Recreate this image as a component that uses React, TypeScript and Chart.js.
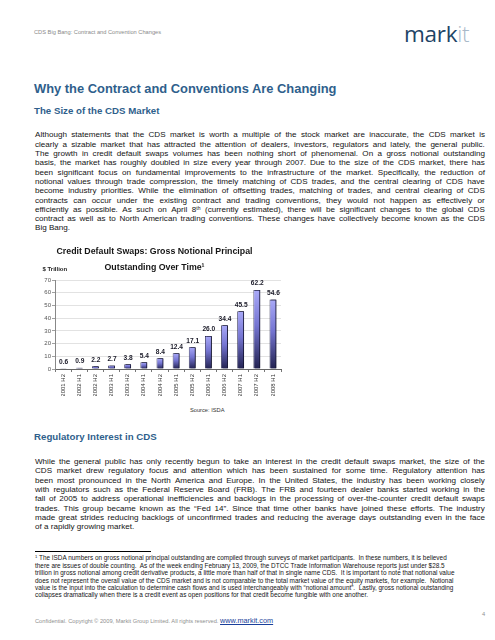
import React, { useEffect, useRef } from "react";
import { Chart, registerables } from "chart.js";

Chart.register(...registerables);

// ---------- chart data ----------
const categories = [
  "2001 H2", "2002 H1", "2002 H2", "2003 H1", "2003 H2", "2004 H1", "2004 H2",
  "2005 H1", "2005 H2", "2006 H1", "2006 H2", "2007 H1", "2007 H2", "2008 H1",
];
const notional = [0.6, 0.9, 2.2, 2.7, 3.8, 5.4, 8.4, 12.4, 17.1, 26.0, 34.4, 45.5, 62.2, 54.6];
const yMin = 0;
const yMax = 70;
const yStep = 10;
const chartTitle = ["Credit Default Swaps: Gross Notional Principal", "Outstanding Over Time\u00b9"];
const unitLabel = "$ Trillion";
const sourceLabel = "Source: ISDA";

// ---------- page text ----------
const headerText = "CDS Big Bang: Contract and Convention Changes";
const h1Text = "Why the Contract and Conventions Are Changing";
const h2Text = "The Size of the CDS Market";
const h3Text = "Regulatory Interest in CDS";
const para1 = [
  "Although statements that the CDS market is worth a multiple of the stock market are inaccurate, the CDS market is",
  "clearly a sizable market that has attracted the attention of dealers, investors, regulators and lately, the general public.",
  "The growth in credit default swaps volumes has been nothing short of phenomenal.  On a gross notional outstanding",
  "basis, the market has roughly doubled in size every year through 2007.  Due to the size of the CDS market, there has",
  "been significant focus on fundamental improvements to the infrastructure of the market.  Specifically, the reduction of",
  "notional values through trade compression, the timely matching of CDS trades, and the central clearing of CDS have",
  "become industry priorities.  While the elimination of offsetting trades, matching of trades, and central clearing of CDS",
  "contracts can occur under the existing contract and trading conventions, they would not happen as effectively or",
  "efficiently as possible.  As such on April 8^th (currently estimated), there will be significant changes to the global CDS",
  "contract as well as to North American trading conventions.  These changes have collectively become known as the CDS",
  "Big Bang.",
];
const para2 = [
  "While the general public has only recently begun to take an interest in the credit default swaps market, the size of the",
  "CDS market drew regulatory focus and attention which has been sustained for some time.  Regulatory attention has",
  "been most pronounced in the North America and Europe.  In the United States, the industry has been working closely",
  "with regulators such as the Federal Reserve Board (FRB).  The FRB and fourteen dealer banks started working in the",
  "fall of 2005 to address operational inefficiencies and backlogs in the processing of over-the-counter credit default swaps",
  "trades.  This group became known as the \u201cFed 14\u201d.  Since that time other banks have joined these efforts.  The industry",
  "made great strides reducing backlogs of unconfirmed trades and reducing the average days outstanding even in the face",
  "of a rapidly growing market.",
];
const footnote = [
  "^1 The ISDA numbers on gross notional principal outstanding are compiled through surveys of market participants.  In these numbers, it is believed",
  "there are issues of double counting.  As of the week ending February 13, 2009, the DTCC Trade Information Warehouse reports just under $28.5",
  "trillion in gross notional among credit derivative products, a little more than half of that in single name CDS.  It is important to note that notional value",
  "does not represent the overall value of the CDS market and is not comparable to the total market value of the equity markets, for example.  Notional",
  "value is the input into the calculation to determine cash flows and is used interchangeably with \u201cnotional amount\u201d.  Lastly, gross notional outstanding",
  "collapses dramatically when there is a credit event as open positions for that credit become fungible with one another.",
];
const footerText = "Confidential. Copyright \u00a9 2009, Markit Group Limited. All rights reserved.";
const footerLink = "www.markit.com";
const pageNumber = "4";

const FONT = "'Liberation Sans', Arial, sans-serif";
const BLUE = "#2f5f8c";

function renderToken(tok: string, key: number) {
  const i = tok.indexOf("^");
  if (i < 0) return <span key={key}>{tok}</span>;
  const base = tok.slice(0, i);
  const rest = tok.slice(i + 1);
  const m = rest.match(/^([a-z0-9]+)(.*)$/i);
  const sup = m ? m[1] : rest;
  const after = m ? m[2] : "";
  return (
    <span key={key}>
      {base}
      <span style={{ fontSize: "0.62em", verticalAlign: "0.5em", lineHeight: 0 }}>{sup}</span>
      {after}
    </span>
  );
}

function JustLine(props: { text: string; top: number; justify: boolean; size: number; lh: number }) {
  const { text, top, justify, size, lh } = props;
  const words = text.split(/\s+/);
  return (
    <div
      style={{
        position: "absolute",
        left: 35,
        top,
        width: 450,
        height: lh,
        lineHeight: lh + "px",
        fontSize: size,
        display: "flex",
        justifyContent: justify ? "space-between" : "flex-start",
        gap: justify ? 0 : size * 0.278,
        whiteSpace: "nowrap",
        color: "#141414",
      }}
    >
      {words.map((w, i) => renderToken(w, i))}
    </div>
  );
}

function PlainLine(props: { text: string; top: number; size: number; lh: number }) {
  const { text, top, size, lh } = props;
  const parts = text.split(/(\^\d+)/);
  return (
    <div
      style={{
        position: "absolute",
        left: 35,
        top,
        height: lh,
        lineHeight: lh + "px",
        fontSize: size,
        whiteSpace: "pre",
        color: "#141414",
      }}
    >
      {parts.map((p, i) =>
        p.startsWith("^") ? (
          <span key={i} style={{ fontSize: "0.65em", verticalAlign: "0.5em", lineHeight: 0 }}>
            {p.slice(1)}
          </span>
        ) : (
          <span key={i}>{p}</span>
        )
      )}
    </div>
  );
}

function BarChart() {
  const ref = useRef<HTMLCanvasElement | null>(null);
  useEffect(() => {
    if (!ref.current) return;
    const fallback = "#7474cc";
    const decor = {
      id: "decor",
      beforeDatasetsDraw(chart: any) {
        const ctx = chart.ctx;
        ctx.save();
        ctx.shadowColor = "rgba(12,12,40,0.95)";
        ctx.shadowOffsetX = 1.6;
        ctx.shadowOffsetY = 0;
        ctx.shadowBlur = 0;
      },
      afterDatasetsDraw(chart: any) {
        const ctx = chart.ctx;
        ctx.restore();
        ctx.save();
        const meta = chart.getDatasetMeta(0);
        ctx.fillStyle = "#1a1a28";
        ctx.font = "bold 6.6px 'Liberation Sans', Arial, sans-serif";
        ctx.textAlign = "center";
        ctx.textBaseline = "bottom";
        meta.data.forEach((bar: any, i: number) => {
          ctx.fillText(notional[i].toFixed(1), bar.x + 0.5, bar.y - 3);
        });
        ctx.font = "bold 6px 'Liberation Sans', Arial, sans-serif";
        ctx.textAlign = "left";
        ctx.textBaseline = "middle";
        ctx.fillStyle = "#222";
        ctx.fillText(unitLabel, chart.chartArea.left - 12.5, chart.chartArea.top - 11);
        ctx.restore();
      },
    };
    const chart = new Chart(ref.current, {
      type: "bar",
      data: {
        labels: categories,
        datasets: [
          {
            data: notional,
            barPercentage: 0.42,
            categoryPercentage: 1,
            borderWidth: 0.8,
            borderColor: "#1c1c44",
            borderSkipped: "bottom",
            backgroundColor: (c: any) => {
              const chart = c.chart;
              const ys = chart.scales && chart.scales.y;
              if (!ys || c.raw == null) return fallback;
              const top = ys.getPixelForValue(c.raw);
              const bottom = ys.getPixelForValue(0);
              if (!(bottom - top > 0.5) || !isFinite(top)) return fallback;
              const g = chart.ctx.createLinearGradient(0, top, 0, bottom);
              g.addColorStop(0, "#a9a9f8");
              g.addColorStop(0.45, "#7575d2");
              g.addColorStop(1, "#222250");
              return g;
            },
          },
        ],
      },
      options: {
        responsive: false,
        animation: false,
        devicePixelRatio: 1,
        layout: { padding: { left: 0, right: 2, top: 0, bottom: 0 } },
        plugins: {
          legend: { display: false },
          tooltip: { enabled: false },
          title: {
            display: true,
            text: chartTitle,
            color: "#151515",
            font: { family: FONT, size: 8.8, weight: "bold", lineHeight: 16 / 8.8 },
            padding: { top: 0, bottom: 4 },
          },
        },
        scales: {
          x: {
            offset: true,
            grid: { display: true, drawOnChartArea: false, offset: true, tickLength: 3, color: "#777" },
            border: { display: true, color: "#666", width: 1 },
            ticks: {
              autoSkip: false,
              maxRotation: 90,
              minRotation: 90,
              padding: 2,
              color: "#333",
              font: { family: FONT, size: 6 },
            },
            afterFit: (s: any) => {
              s.height = 27;
            },
          },
          y: {
            min: yMin,
            max: yMax,
            ticks: { stepSize: yStep, color: "#555", padding: 1, font: { family: FONT, size: 6 } },
            grid: { color: "#dadada", lineWidth: 0.8, tickLength: 3, tickColor: "#888" },
            border: { display: true, color: "#888", width: 1 },
            afterFit: (s: any) => {
              s.width = 27;
            },
          },
        },
      },
      plugins: [decor],
    });
    return () => chart.destroy();
  }, []);
  return (
    <canvas
      ref={ref}
      width={255}
      height={152}
      style={{ position: "absolute", left: 28, top: 244, width: 255, height: 152, display: "block" }}
    />
  );
}

export default function App() {
  const bodySize = 8.09;
  const bodyLh = 9.3;
  const p1Top = 130.4;
  const p2Top = 457;
  const fnSize = 6.42;
  const fnLh = 7.4;
  const fnTop = 554.3;
  return (
    <div
      style={{
        position: "absolute",
        left: 0,
        top: 0,
        width: 495,
        height: 640,
        overflow: "hidden",
        background: "#ffffff",
        fontFamily: FONT,
      }}
    >
      <div style={{ position: "absolute", left: 34, top: 28.7, fontSize: 5.7, lineHeight: "6.5px", color: "#8a8a8a", whiteSpace: "nowrap" }}>
        {headerText}
      </div>
      <div
        style={{
          position: "absolute",
          left: 404,
          top: 22,
          fontFamily: "'Open Sans', sans-serif",
          fontSize: 22.5,
          lineHeight: "24px",
          letterSpacing: "-0.3px",
          color: "#1d4466",
          whiteSpace: "nowrap",
        }}
      >
        mark<span style={{ color: "#a9b9c9", fontWeight: 300 }}>it</span>
      </div>
      <div style={{ position: "absolute", left: 34, top: 80.5, fontSize: 12.9, lineHeight: "15px", fontWeight: "bold", color: BLUE, whiteSpace: "nowrap" }}>
        {h1Text}
      </div>
      <div style={{ position: "absolute", left: 34, top: 104.5, fontSize: 9.7, lineHeight: "11px", fontWeight: "bold", color: BLUE, whiteSpace: "nowrap" }}>
        {h2Text}
      </div>
      {para1.map((t, i) => (
        <JustLine key={"p1" + i} text={t} top={p1Top + i * bodyLh} justify={i < para1.length - 1} size={bodySize} lh={bodyLh} />
      ))}
      <BarChart />
      <div style={{ position: "absolute", left: 190, top: 406.5, fontSize: 5.7, lineHeight: "7px", color: "#333", whiteSpace: "nowrap" }}>
        {sourceLabel}
      </div>
      <div style={{ position: "absolute", left: 34, top: 431.2, fontSize: 9.7, lineHeight: "11px", fontWeight: "bold", color: BLUE, whiteSpace: "nowrap" }}>
        {h3Text}
      </div>
      {para2.map((t, i) => (
        <JustLine key={"p2" + i} text={t} top={p2Top + i * bodyLh} justify={i < para2.length - 1} size={bodySize} lh={bodyLh} />
      ))}
      <div style={{ position: "absolute", left: 35, top: 551, width: 116, height: 0.8, background: "#000" }} />
      {footnote.map((t, i) => (
        <PlainLine key={"fn" + i} text={t} top={fnTop + i * fnLh} size={fnSize} lh={fnLh} />
      ))}
      <div style={{ position: "absolute", left: 35, top: 613, lineHeight: "9px", whiteSpace: "nowrap" }}>
        <span style={{ fontSize: 5.7, color: "#8f8f8f" }}>{footerText} </span>
        <span style={{ fontSize: 7.3, color: "#1a3f9a", textDecoration: "underline" }}>{footerLink}</span>
      </div>
      <div style={{ position: "absolute", left: 482, top: 611, fontSize: 5.7, lineHeight: "7px", color: "#8f8f8f" }}>{pageNumber}</div>
    </div>
  );
}
